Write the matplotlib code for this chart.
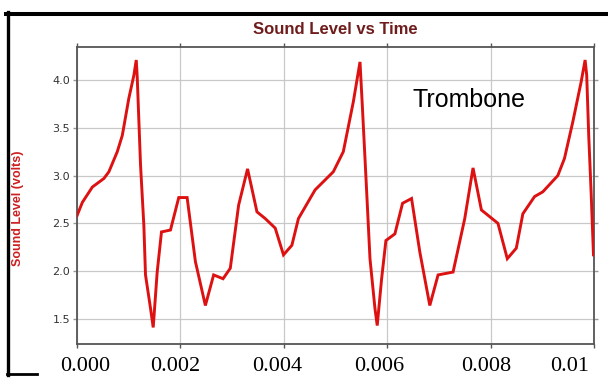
import matplotlib
matplotlib.use("Agg")
import matplotlib.pyplot as plt
from matplotlib import font_manager
from matplotlib.lines import Line2D

W, H = 608, 378

# ---- data (time in seconds, sound level in volts) ----
time_s = [0.0, 0.000104, 0.000297, 0.000521, 0.000617, 0.000779, 0.000876, 0.001003,
          0.001100, 0.001146, 0.001165, 0.001229, 0.001293, 0.001325, 0.001422, 0.001474,
          0.001551, 0.001634, 0.001808, 0.001968, 0.002130, 0.002290, 0.002483, 0.002643,
          0.002825, 0.002965, 0.003126, 0.003299, 0.003481, 0.003641, 0.003834, 0.003994,
          0.004156, 0.004283, 0.004605, 0.004958, 0.005151, 0.005344, 0.005474, 0.005518,
          0.005603, 0.005667, 0.005763, 0.005807, 0.005892, 0.005975, 0.006149, 0.006297,
          0.006471, 0.006631, 0.006824, 0.006984, 0.007274, 0.007500, 0.007660, 0.007822,
          0.008142, 0.008323, 0.008497, 0.008624, 0.008850, 0.009010, 0.009300, 0.009429,
          0.009589, 0.009751, 0.009828, 0.009859, 0.009898, 0.009944, 0.009990]
volts = [2.58, 2.72, 2.88, 2.97, 3.04, 3.25, 3.42, 3.81,
         4.05, 4.21, 4.03, 3.11, 2.48, 1.96, 1.61, 1.41,
         1.99, 2.41, 2.43, 2.77, 2.77, 2.10, 1.64, 1.96,
         1.92, 2.03, 2.69, 3.07, 2.62, 2.55, 2.45, 2.17,
         2.27, 2.55, 2.85, 3.04, 3.25, 3.77, 4.19, 3.74,
         2.83, 2.13, 1.61, 1.43, 1.92, 2.32, 2.39, 2.71,
         2.76, 2.20, 1.64, 1.96, 1.99, 2.55, 3.08, 2.64,
         2.50, 2.13, 2.24, 2.60, 2.78, 2.83, 3.00, 3.18,
         3.56, 3.98, 4.21, 4.05, 3.42, 2.83, 2.17]

x_grid = [0.0, 0.002, 0.004, 0.006, 0.008, 0.010]
y_ticks = [1.5, 2.0, 2.5, 3.0, 3.5, 4.0]
y_tick_labels = ["1.5", "2.0", "2.5", "3.0", "3.5", "4.0"]
x_tick_labels = ["0.000", "0.002", "0.004", "0.006", "0.008", "0.01"]
x_label_px = [85, 175, 277, 379, 486, 570]

title = "Sound Level vs Time"
y_label = "Sound Level (volts)"
annotation = "Trombone"

# ---- fonts ----
names = {f.name for f in font_manager.fontManager.ttflist}
narrow = "Liberation Sans Narrow" if "Liberation Sans Narrow" in names else "Liberation Sans"

fig = plt.figure(figsize=(W / 100, H / 100), dpi=100)
fig.patch.set_facecolor("white")

ax = fig.add_axes([77 / W, 1 - 343.5 / H, (594 - 77) / W, (343.5 - 47.3) / H])
ax.plot(time_s, volts, color="#dd1111", lw=2.1, solid_joinstyle="miter", zorder=3)

ax.set_xlim(0.0, 0.010)
ax.set_ylim(1.242, 4.343)
ax.set_xticks(x_grid)
ax.set_yticks(y_ticks)
ax.set_yticklabels(y_tick_labels)
ax.tick_params(axis="x", labelbottom=False, bottom=True, top=True, direction="out",
               length=3, width=1, color="#555555")
ax.tick_params(axis="y", left=True, right=True, direction="out", length=3, width=1,
               color="#999999", labelsize=8, labelcolor="#333333", pad=2)
for lab in ax.get_yticklabels():
    lab.set_family("DejaVu Sans")
ax.grid(True, color="#c8c8c8", lw=0.9, zorder=0)
for sp in ax.spines.values():
    sp.set_color("#555555")
    sp.set_linewidth(1.3)

# x tick labels (serif, offset as in the reference)
for lbl, px in zip(x_tick_labels, x_label_px):
    fig.text(px / W, 1 - 371 / H, lbl, ha="center", va="baseline",
             family="Liberation Serif", fontsize=16, color="black")

# title
fig.text(335 / W, 1 - 34 / H, title, ha="center", va="baseline",
         family=narrow, fontweight="bold", fontsize=12, color="#6e1c1c")

# y label
fig.text(18 / W, 1 - 208 / H, y_label, ha="center", va="center", rotation=90,
         family=narrow, fontweight="bold", fontsize=9, color="#cc2020")

# annotation
fig.text(412 / W, 1 - 107 / H, annotation, ha="left", va="baseline",
         family="Liberation Sans", fontsize=18, color="black")

# black border lines
fig.add_artist(Line2D([6 / W, 1.0], [1 - 14 / H, 1 - 14 / H], color="black", lw=2.9))
fig.add_artist(Line2D([8.3 / W, 8.3 / W], [1 - 12 / H, 1 - 375 / H], color="black", lw=2.4))
fig.add_artist(Line2D([7 / W, 37 / W], [1 - 374 / H, 1 - 374 / H], color="black", lw=2.0))

fig.savefig("out.png", dpi=100, facecolor="white")
